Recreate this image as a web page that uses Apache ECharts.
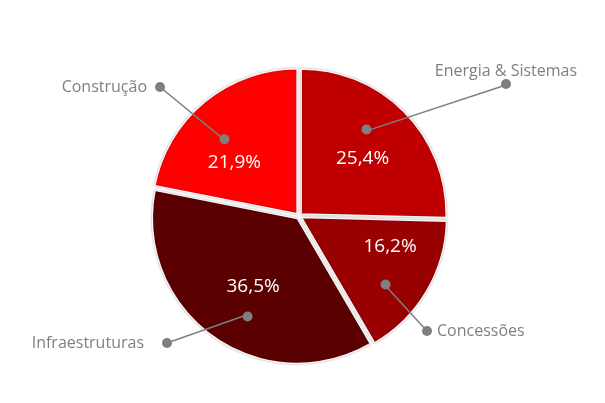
<!DOCTYPE html>
<html>
<head>
<meta charset="utf-8">
<script src="https://cdn.jsdelivr.net/npm/echarts@6/dist/echarts.min.js"></script>
<style>
  html, body { margin: 0; padding: 0; background: #fff; }
  #main { width: 605px; height: 403px; }
</style>
</head>
<body>
<div id="main"></div>
<script>
// dados do gráfico
var categorias = ['Energia & Sistemas', 'Concessões', 'Infraestruturas', 'Construção'];
var valores = [25.4, 16.2, 36.5, 21.9];
var cores = ['#c00000', '#990000', '#5a0000', '#ff0000'];

// ajustes de layout dos rótulos (deslocamentos e posições)
var desvioPct = [[2, 3], [17, -13], [4, 1], [-10, 13]];
var desvioPonto = [[-12, -9], [-9, 12], [13, 10], [-4, 9]];
var posRotulos = [
  { x: 506, y: 76, align: 'center', fim: [506, 85] },
  { x: 422, y: 331, align: 'left', fim: [427, 331] },
  { x: 172, y: 343, align: 'right', fim: [167, 343] },
  { x: 165, y: 87, align: 'right', fim: [160, 87] }
];

var centro = [299, 216];
var cinza = '#7f7f7f';

function pct(v) {
  return v.toFixed(1).replace('.', ',') + '%';
}

var dadosPizza = categorias.map(function (c, i) {
  return { name: c, value: valores[i], selected: true, itemStyle: { color: cores[i] } };
});
var dadosPct = categorias.map(function (c, i) {
  return { name: c, value: valores[i], label: { offset: desvioPct[i] } };
});
var dadosPonto = categorias.map(function (c, i) {
  return { name: c, value: valores[i], label: { offset: desvioPonto[i] } };
});
var dadosTransp = categorias.map(function (c, i) {
  return { name: c, value: valores[i] };
});

var chart = echarts.init(document.getElementById('main'), null, { renderer: 'canvas' });
var option = {
  backgroundColor: '#fff',
  animation: false,
  series: [
    {
      // fatias
      type: 'pie',
      center: centro,
      radius: [0, 145],
      selectedMode: 'multiple',
      selectedOffset: 3,
      silent: true,
      z: 2,
      itemStyle: {
        borderColor: '#f3f5f9',
        borderWidth: 1.5,
        shadowBlur: 2,
        shadowColor: 'rgba(60,0,0,0.3)'
      },
      emphasis: { disabled: true },
      label: { show: false },
      labelLine: { show: false },
      data: dadosPizza
    },
    {
      // rótulos externos com linhas
      type: 'pie',
      center: centro,
      radius: [0, 108],
      silent: true,
      z: 3,
      itemStyle: { color: 'rgba(0,0,0,0)' },
      emphasis: { disabled: true },
      label: {
        show: true,
        position: 'outside',
        color: cinza,
        fontFamily: 'Open Sans',
        fontSize: 16,
        formatter: function (p) {
          if (p.dataIndex === 0) return p.name + '\n{dot|}';
          if (p.dataIndex === 1) return '{dot|}{g1|}' + p.name;
          if (p.dataIndex === 2) return p.name + '{g3|}{dot|}';
          return p.name + '{g2|}{dot|}';
        },
        rich: {
          dot: { width: 10, height: 10, borderRadius: 5, backgroundColor: cinza },
          g1: { width: 5 },
          g2: { width: 8 },
          g3: { width: 18 }
        }
      },
      labelLine: {
        show: true,
        length: 20,
        length2: 0,
        smooth: false,
        lineStyle: { color: cinza, width: 1.5 }
      },
      labelLayout: function (p) {
        var i = p.dataIndex;
        var pos = posRotulos[i];
        var ini = p.labelLinePoints ? p.labelLinePoints[0] : pos.fim;
        var inicio = [ini[0] + desvioPonto[i][0], ini[1] + desvioPonto[i][1]];
        return {
          x: pos.x, y: pos.y, align: pos.align, verticalAlign: 'middle',
          hideOverlap: false,
          labelLinePoints: [inicio, pos.fim]
        };
      },
      data: dadosTransp
    },
    {
      // percentagens
      type: 'pie',
      center: centro,
      radius: [0, 166],
      silent: true,
      z: 4,
      itemStyle: { color: 'rgba(0,0,0,0)' },
      emphasis: { disabled: true },
      label: {
        show: true,
        position: 'inside',
        color: '#fff',
        fontFamily: 'Open Sans',
        fontSize: 19,
        formatter: function (p) { return pct(p.value); }
      },
      labelLayout: { hideOverlap: false },
      labelLine: { show: false },
      data: dadosPct
    },
    {
      // pontos internos
      type: 'pie',
      center: centro,
      radius: [0, 216],
      silent: true,
      z: 5,
      itemStyle: { color: 'rgba(0,0,0,0)' },
      emphasis: { disabled: true },
      label: {
        show: true,
        position: 'inside',
        formatter: '',
        width: 10,
        height: 10,
        borderRadius: 5,
        backgroundColor: cinza
      },
      labelLayout: { hideOverlap: false },
      labelLine: { show: false },
      data: dadosPonto
    }
  ]
};
chart.setOption(option);
</script>
</body>
</html>
